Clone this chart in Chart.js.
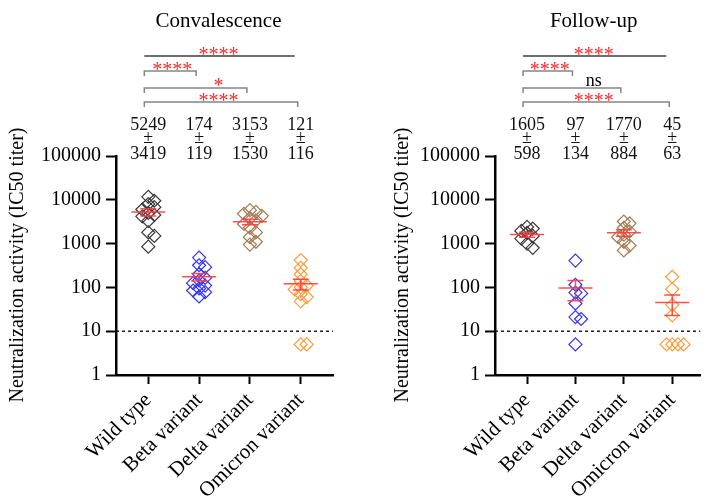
<!DOCTYPE html>
<html>
<head>
<meta charset="utf-8">
<title>Neutralization activity</title>
<script src="https://cdn.jsdelivr.net/npm/chart.js@4.4.1/dist/chart.umd.min.js"></script>
<style>
  html, body { margin: 0; padding: 0; background: #fff; }
  #wrap { position: relative; width: 708px; height: 499px; overflow: hidden; }
  canvas { position: absolute; top: 0; }
  #convChart { left: 0; }
  #followChart { left: 354px; }
</style>
</head>
<body>
<div id="wrap">
  <canvas id="convChart" width="354" height="499"></canvas>
  <canvas id="followChart" width="354" height="499"></canvas>
</div>
<script>
// Groups and axis ticks
const categories = ['Wild type', 'Beta variant', 'Delta variant', 'Omicron variant'];
const yTicks = [1, 10, 100, 1000, 10000, 100000];
const cutoff = 10;

// Convalescence: IC50 titers
const convWild = [11700, 9500, 8000, 6800, 6000, 5000, 4500, 4200, 3300, 1800, 1500, 850];
const convBeta = [480, 320, 290, 200, 165, 145, 125, 110, 95, 85, 78, 62];
const convDelta = [5800, 5300, 4800, 4300, 3800, 3400, 2800, 2300, 1800, 1400, 1100, 950];
const convOmicron = [420, 280, 200, 140, 110, 100, 90, 70, 60, 48, 5, 5];
const convMeans = [5249, 174, 3153, 121];
const convSDs = [3419, 119, 1530, 116];
const convSig = ['****', '****', '*', '****'];

// Follow-up
const followWild = [2400, 2200, 1950, 1750, 1500, 1300, 1000, 800];
const followBeta = [410, 115, 76, 73, 43, 21, 19, 5];
const followDelta = [3200, 2900, 2300, 1900, 1600, 1400, 1100, 900, 700];
const followOmicron = [175, 91, 40, 23, 5, 5, 5, 5];
const followMeans = [1605, 97, 1770, 45];
const followSDs = [598, 134, 884, 63];
const followSig = ['****', '****', 'ns', '****'];

const groupColors = ['#383838', '#3333ff', '#a47b52', '#ff9a3c'];
const FONT = '"Liberation Serif", "Times New Roman", serif';
Chart.defaults.font.family = FONT;
Chart.defaults.color = '#000';

// spread points sideways so the diamonds don't pile up (like a scatter dot plot)
function swarm(values) {
  const pxX = 51, pxY = 43.8, step = 6, minDist = 6;
  const placed = [];
  const offsets = new Array(values.length).fill(0);
  const order = values.map((v, i) => i).sort((a, b) => values[b] - values[a]);
  order.forEach(idx => {
    const py = Math.log10(values[idx]) * pxY;
    for (let n = 0; n < 20; n++) {
      const k = n === 0 ? 0 : (n % 2 ? (n + 1) / 2 : -n / 2);
      const dx = k * step;
      if (placed.every(p => Math.hypot(dx - p.dx, py - p.py) >= minDist)) {
        placed.push({ dx, py });
        offsets[idx] = dx / pxX;
        break;
      }
    }
  });
  return offsets;
}

const overlay = {
  id: 'overlay',
  beforeDatasetsDraw(chart, args, o) {
    const { ctx, chartArea, scales: { y } } = chart;
    const yc = y.getPixelForValue(cutoff);
    ctx.save();
    ctx.strokeStyle = '#000';
    ctx.lineWidth = 1.3;
    ctx.setLineDash([3, 3]);
    ctx.beginPath();
    ctx.moveTo(chartArea.left, yc);
    ctx.lineTo(chartArea.right, yc);
    ctx.stroke();
    ctx.restore();
  },
  afterDatasetsDraw(chart, args, o) {
    const { ctx, scales: { x, y } } = chart;
    ctx.save();
    ctx.strokeStyle = 'rgba(255, 60, 60, 0.9)';
    ctx.lineWidth = 1.5;
    o.means.forEach((m, i) => {
      const sem = o.sds[i] / Math.sqrt(o.counts[i]);
      const cx = x.getPixelForValue(i);
      const ym = y.getPixelForValue(m);
      const yHi = y.getPixelForValue(m + sem);
      const yLo = y.getPixelForValue(Math.max(m - sem, 1));
      ctx.beginPath();
      ctx.moveTo(cx - 17, ym); ctx.lineTo(cx + 17, ym);
      ctx.moveTo(cx, yHi); ctx.lineTo(cx, yLo);
      ctx.moveTo(cx - 8, yHi); ctx.lineTo(cx + 8, yHi);
      ctx.moveTo(cx - 8, yLo); ctx.lineTo(cx + 8, yLo);
      ctx.stroke();
    });
    ctx.restore();
  },
  afterDraw(chart, args, o) {
    const { ctx, scales: { x } } = chart;
    const centerX = x.getPixelForValue(1.5) - 6;
    ctx.save();

    // panel title
    ctx.fillStyle = '#000';
    ctx.textAlign = 'center';
    ctx.textBaseline = 'alphabetic';
    ctx.font = '21px ' + FONT;
    ctx.fillText(o.title, centerX, 27);

    // y axis title
    ctx.font = '20px ' + FONT;
    ctx.save();
    ctx.translate(o.yTitleX, 265);
    ctx.rotate(-Math.PI / 2);
    ctx.fillText('Neutralization activity (IC50 titer)', 0, 0);
    ctx.restore();

    // significance brackets, all from wild type
    const lineY = [56, 71, 88, 102];
    const labelY = [61, 76, 92, 107];
    const targets = [3, 1, 2, 3];
    const x0 = x.getPixelForValue(0) - 4;
    targets.forEach((t, k) => {
      const x1 = x.getPixelForValue(t) - (k === 0 ? 6 : 3);
      ctx.strokeStyle = k === 0 ? '#6e6e6e' : '#858585';
      ctx.lineWidth = k === 0 ? 2 : 1.5;
      ctx.beginPath();
      if (k === 0) {
        ctx.moveTo(x0, lineY[k]); ctx.lineTo(x1, lineY[k]);
      } else {
        ctx.moveTo(x0, lineY[k] + 5); ctx.lineTo(x0, lineY[k]);
        ctx.lineTo(x1, lineY[k]); ctx.lineTo(x1, lineY[k] + 5);
      }
      ctx.stroke();
      const lx = k === 1 ? (x0 + x1) / 2 + 2 : centerX;
      const label = o.sig[k];
      if (label === 'ns') {
        ctx.fillStyle = '#000';
        ctx.font = '18px ' + FONT;
        ctx.fillText(label, lx, labelY[k] - 6);
      } else {
        ctx.fillStyle = '#ff2a2a';
        ctx.font = '20px ' + FONT;
        ctx.fillText(label, lx, labelY[k]);
      }
    });

    // mean ± SD under the brackets
    ctx.fillStyle = '#111';
    ctx.font = '18px ' + FONT;
    o.means.forEach((m, i) => {
      const cx = x.getPixelForValue(i);
      ctx.fillText(String(m), cx, 130);
      ctx.fillText('±', cx, 143);
      ctx.fillText(String(o.sds[i]), cx, 159);
    });
    ctx.restore();
  }
};

function buildChart(id, series, means, sds, sig, title, p) {
  const datasets = series.map((vals, i) => {
    const offs = swarm(vals);
    return {
      data: vals.map((v, j) => ({ x: i + offs[j], y: v })),
      borderColor: groupColors[i],
      backgroundColor: 'rgba(0,0,0,0)',
      pointStyle: 'rectRot',
      pointRadius: 6.5,
      pointBorderWidth: 1.2,
      pointHoverRadius: 6.5
    };
  });

  return new Chart(document.getElementById(id), {
    type: 'scatter',
    data: { datasets },
    options: {
      responsive: false,
      animation: false,
      layout: { padding: { top: 156, right: p.padRight, bottom: 0, left: 0 } },
      plugins: {
        legend: { display: false },
        tooltip: { enabled: false },
        overlay: {
          means, sds, sig, title,
          counts: series.map(s => s.length),
          yTitleX: p.yTitleX
        }
      },
      scales: {
        x: {
          type: 'linear',
          min: p.xMin,
          max: p.xMax,
          afterBuildTicks: axis => { axis.ticks = categories.map((c, i) => ({ value: i })); },
          afterFit: scale => { scale.height = 124; },
          ticks: {
            callback: v => categories[v],
            autoSkip: false,
            minRotation: 45,
            maxRotation: 45,
            padding: 4,
            font: { size: 21 },
            color: '#000'
          },
          grid: { drawOnChartArea: false, tickLength: 9, tickWidth: 2, tickColor: '#000' },
          border: { display: true, color: '#000', width: 2.5 }
        },
        y: {
          type: 'logarithmic',
          min: 1,
          max: 100000,
          afterBuildTicks: axis => { axis.ticks = yTicks.map(v => ({ value: v })); },
          afterFit: scale => { scale.width = p.yWidth; },
          ticks: {
            callback: v => String(v),
            padding: 5,
            font: { size: 20 },
            color: '#000'
          },
          grid: { drawOnChartArea: false, tickLength: 10, tickWidth: 2, tickColor: '#000' },
          border: { display: true, color: '#000', width: 2.5 }
        }
      }
    },
    plugins: [overlay]
  });
}

buildChart('convChart',
  [convWild, convBeta, convDelta, convOmicron],
  convMeans, convSDs, convSig, 'Convalescence',
  { yWidth: 116, padRight: 21, xMin: -0.636, xMax: 3.636, yTitleX: 23 });

buildChart('followChart',
  [followWild, followBeta, followDelta, followOmicron],
  followMeans, followSDs, followSig, 'Follow-up',
  { yWidth: 141, padRight: 0, xMin: -0.662, xMax: 3.58, yTitleX: 54 });
</script>
</body>
</html>
